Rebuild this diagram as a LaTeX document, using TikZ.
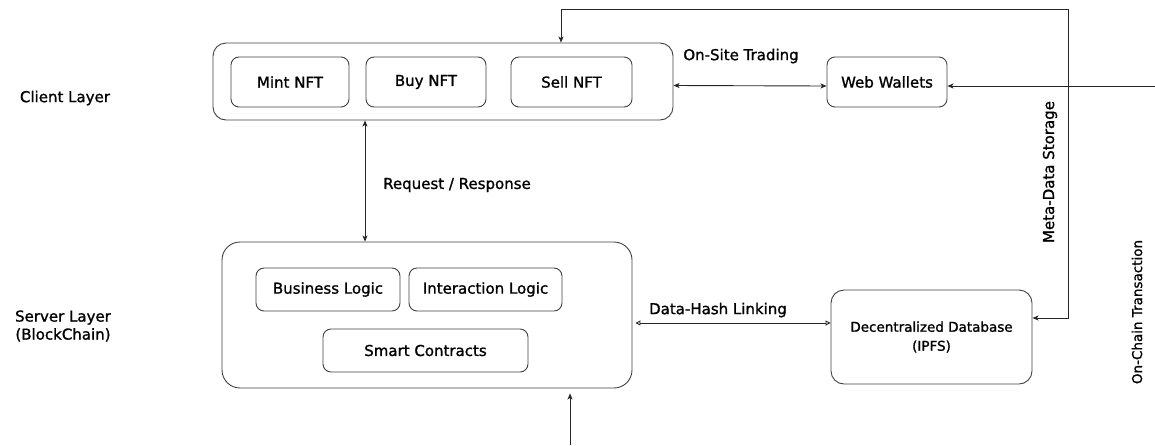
\documentclass[tikz,border=0pt]{standalone}
\usepackage{fontspec}
\setmainfont[FakeBold=1.2]{DejaVu Sans}
\usetikzlibrary{arrows.meta}
\begin{document}
\begin{tikzpicture}[x=1pt,y=-1pt,
  every node/.style={font=\fontsize{15}{18}\selectfont, text=black},
  outer/.style={draw=black!75, line width=0.9pt, rounded corners=13pt, inner sep=0pt},
  item/.style={draw=black!75, line width=0.9pt, rounded corners=8pt, inner sep=0pt},
  conn/.style={draw=black!85, line width=0.9pt},
  tip/.tip={Stealth[length=6pt,width=5pt,inset=1.5pt]},
  otip/.tip={Triangle[open,length=5pt,width=5pt]},
  lbl/.style={inner sep=1pt}]
\useasboundingbox (0,0) rectangle (1155,445);

% layer captions
\node[lbl] (clientlayer) at (65,98) {Client Layer};
\node[lbl, align=center] (serverlayer) at (63,326) {Server Layer\\(BlockChain)};

% client layer
\node[outer, minimum width=460pt, minimum height=77pt] (client) at (443,81.5) {};
\node[item, minimum width=118pt, minimum height=50pt] (mint) at (290,82) {Mint NFT};
\node[item, minimum width=120pt, minimum height=50pt] (buy) at (426,82) {Buy NFT};
\node[item, minimum width=121pt, minimum height=50pt] (sell) at (571.5,82) {Sell NFT};
\node[item, minimum width=120pt, minimum height=50pt] (wallets) at (887,82) {Web Wallets};

% server layer
\node[outer, rounded corners=18pt, minimum width=410pt, minimum height=146pt] (server) at (427,315) {};
\node[item, minimum width=144pt, minimum height=43pt] (business) at (328,289.5) {Business Logic};
\node[item, minimum width=153pt, minimum height=43pt] (interaction) at (485.5,289.5) {Interaction Logic};
\node[item, minimum width=205pt, minimum height=43pt] (contracts) at (425.5,350.5) {Smart Contracts};

% storage
\node[item, rounded corners=13pt, minimum width=201pt, minimum height=94pt, align=center,
      font=\fontsize{13.5}{19}\selectfont] (ipfs) at (931.5,337) {Decentralized Database\\(IPFS)};

% free ends of the on-chain transaction links
\coordinate (chainright) at (1155,86);
\coordinate (chainbottom) at (570,445);
\coordinate (metacorner) at (1068,9);

% connectors
\draw[conn, tip-tip] ([yshift=-4pt]client.east) -- ([yshift=-4pt]wallets.west);
\draw[conn, tip-tip] (client.south -| 365,0) -- (server.north -| 365,0);
\draw[conn, otip-otip] ([xshift=3pt,yshift=-8pt]server.east) -- ([yshift=14pt]ipfs.west);
\draw[conn, tip-tip] (client.north -| 561,0) |- (metacorner) |- ([yshift=19pt]ipfs.east);
\draw[conn, -tip] (chainright) -- ([yshift=-4pt]wallets.east);
\draw[conn, -tip] (chainbottom) -- ([yshift=-5pt]server.south -| chainbottom);

% connector labels
\node[lbl] (trading) at (741,56) {On-Site Trading};
\node[lbl] (reqres) at (457,185) {Request / Response};
\node[lbl] (hashlink) at (718,310) {Data-Hash Linking};
\node[lbl, rotate=90] (metastore) at (1050,172) {Meta-Data Storage};
\node[lbl, rotate=90, font=\fontsize{13.5}{16}\selectfont] (onchain) at (1137,312) {On-Chain Transaction};
\end{tikzpicture}
\end{document}
